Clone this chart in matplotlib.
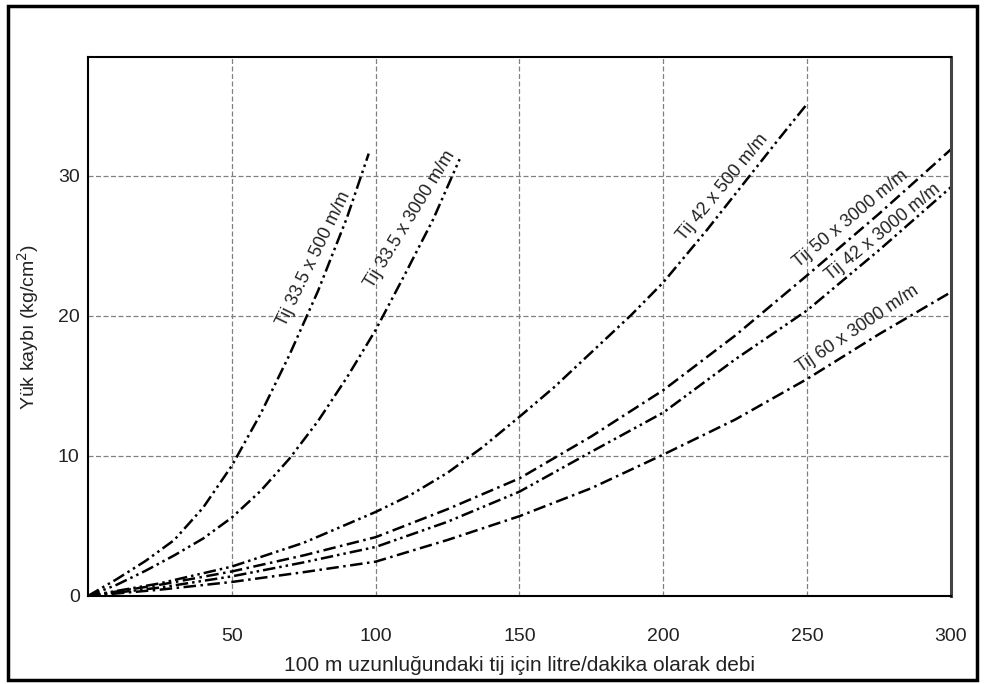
"""
Tij basinc kaybi grafigi (yuk kaybi - debi).
"""

import matplotlib
matplotlib.use('Agg')
import matplotlib.pyplot as plt
from matplotlib.patches import Rectangle

plt.rcParams['font.family'] = ['Liberation Sans', 'DejaVu Sans']

# --- data (debi, yuk kaybi) ---
x_335_500 = [0, 10, 20, 30, 40, 50, 60, 70, 80, 90, 97.6]
y_335_500 = [0, 1.2, 2.5, 4.0, 6.3, 9.3, 13.0, 17.2, 21.8, 27.0, 31.6]

x_335_3000 = [0, 10, 20, 30, 40, 50, 60, 70, 80, 90, 100, 110, 120, 129.2]
y_335_3000 = [0, 0.8, 1.8, 2.9, 4.1, 5.6, 7.5, 9.8, 12.5, 15.6, 19, 22.9, 26.9, 31.2]

x_42_500 = [0, 25, 50, 75, 100, 112, 125, 137, 150, 162, 175, 189, 200, 215, 230, 240, 250.2]
y_42_500 = [0, 0.9, 2.1, 3.8, 6.0, 7.2, 8.8, 10.6, 12.8, 14.9, 17.4, 20.1, 22.4, 26.1, 30, 32.6, 35.2]

x_long = [0, 25, 50, 75, 100, 125, 150, 175, 200, 225, 250, 275, 300]
y_50_3000 = [0, 0.8, 1.75, 2.9, 4.2, 6.2, 8.4, 11.4, 14.7, 18.6, 22.9, 27.3, 31.9]
y_42_3000 = [0, 0.6, 1.4, 2.4, 3.5, 5.3, 7.45, 10.3, 13.1, 16.9, 20.4, 24.7, 29.2]
y_60_3000 = [0, 0.45, 1.0, 1.7, 2.45, 4.0, 5.7, 7.7, 10.1, 12.6, 15.5, 18.7, 21.7]

labels = ['Tij 33.5 x 500 m/m', 'Tij 33.5 x 3000 m/m', 'Tij 42 x 500 m/m',
          'Tij 50 x 3000 m/m', 'Tij 42 x 3000 m/m', 'Tij 60 x 3000 m/m']

x_ticks = [50, 100, 150, 200, 250, 300]
y_ticks = [0, 10, 20, 30]

# dash patterns
dash_dot_dot = (0, (5, 1.6, 1, 1.6, 1, 1.6))
dash_dot = (0, (5, 1.8, 1, 1.8))

fig = plt.figure(figsize=(9.84, 6.84), dpi=100)
ax = fig.add_axes([0.0894, 0.1287, 0.877, 0.788])

series = [
    (x_335_500, y_335_500, dash_dot_dot),
    (x_335_3000, y_335_3000, dash_dot_dot),
    (x_42_500, y_42_500, dash_dot_dot),
    (x_long, y_50_3000, dash_dot),
    (x_long, y_42_3000, dash_dot_dot),
    (x_long, y_60_3000, dash_dot),
]
for xs, ys, ls in series:
    ax.plot(xs, ys, color='black', lw=1.8, linestyle=ls, solid_capstyle='butt')

# curve labels (position, screen angle)
label_pos = [(78.5, 24.1, 64), (112.0, 26.9, 58.5), (220.7, 29.2, 50.5),
             (265.2, 26.9, 39.6), (276.3, 26.0, 39.2), (267.6, 19.1, 33.9)]
for txt, (lx, ly, rot) in zip(labels, label_pos):
    ax.text(lx, ly, txt, rotation=rot, rotation_mode='anchor', ha='center',
            va='center', fontsize=13, color='#222222')

ax.set_xlim(0, 300)
ax.set_ylim(0, 38.5)
ax.set_xticks(x_ticks)
ax.set_yticks(y_ticks)
ax.tick_params(axis='both', length=0, labelsize=14, colors='#222222')
ax.tick_params(axis='x', pad=23)
ax.tick_params(axis='y', pad=6)
ax.grid(True, color='#808080', linestyle=(0, (4, 2)), lw=0.9)
for sp in ax.spines.values():
    sp.set_linewidth(1.5)
ax.spines['right'].set_color('#444444')
ax.spines['right'].set_linewidth(2.2)

ax.set_xlabel('100 m uzunluğundaki tij için litre/dakika olarak debi',
              fontsize=15, color='#222222', labelpad=8)
ax.set_ylabel('Yük kaybı (kg/cm$^2$)', fontsize=14, color='#222222', labelpad=12)

# outer frame
fig.patches.append(Rectangle((0.008, 0.006), 0.985, 0.985, transform=fig.transFigure,
                             fill=False, edgecolor='black', lw=2.5))

fig.savefig('out.png', dpi=100)
